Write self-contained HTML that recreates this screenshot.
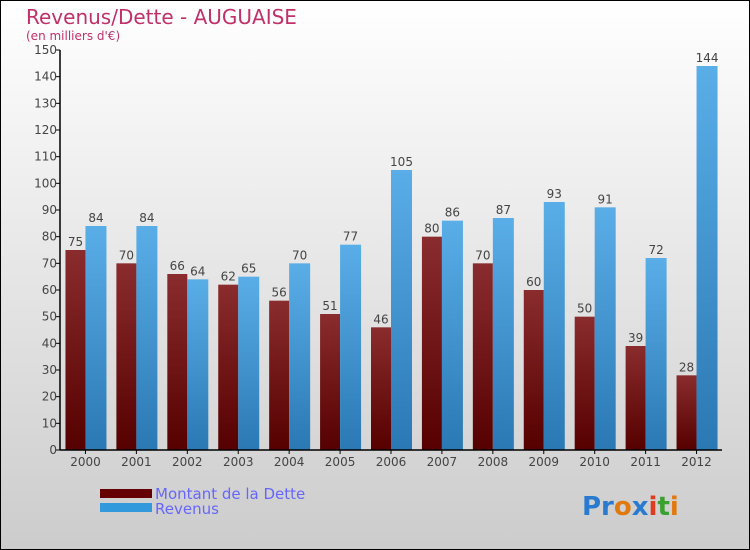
<!DOCTYPE html>
<html><head><meta charset="utf-8"><style>
body{margin:0}
#c{width:750px;height:550px;position:relative;overflow:hidden;font-family:"DejaVu Sans","Liberation Sans",sans-serif}
</style></head><body>
<div id="c">
<svg id="s" width="750" height="550" xmlns="http://www.w3.org/2000/svg">
<defs>
<linearGradient id="bg" x1="0" y1="0" x2="0" y2="1"><stop offset="0" stop-color="#ffffff"/><stop offset="1" stop-color="#cccccc"/></linearGradient>
<linearGradient id="gd" x1="0" y1="0" x2="0" y2="1"><stop offset="0" stop-color="#8a2c2e"/><stop offset="1" stop-color="#560000"/></linearGradient>
<linearGradient id="gr" x1="0" y1="0" x2="0" y2="1"><stop offset="0" stop-color="#5aaee8"/><stop offset="1" stop-color="#2a78b4"/></linearGradient>
</defs>
<rect x="0.5" y="0.5" width="749" height="549" fill="url(#bg)" stroke="#000"/>
<text x="26" y="24" font-size="20" fill="#c0306a">Revenus/Dette - AUGUAISE</text>
<text x="26" y="40" font-size="12" fill="#c0306a">(en milliers d'€)</text>
<g id="plot"></g>
<rect x="100" y="489" width="52" height="9" fill="#650000"/>
<text x="155" y="499" font-size="15" fill="#6666ff">Montant de la Dette</text>
<rect x="100" y="503" width="52" height="9" fill="#3399dd"/>
<text x="155" y="514" font-size="15" fill="#6666ff">Revenus</text>
<text x="582" y="515" font-size="26" font-weight="bold"><tspan fill="#2a7ad0">Pr</tspan><tspan fill="#e07a10">o</tspan><tspan fill="#2a7ad0">x</tspan><tspan fill="#e03a20">i</tspan><tspan fill="#3aa030">t</tspan><tspan fill="#e07a10">i</tspan></text>
</svg>
</div>
<script>
const years=["2000","2001","2002","2003","2004","2005","2006","2007","2008","2009","2010","2011","2012"];
const dette=[75,70,66,62,56,51,46,80,70,60,50,39,28];
const revenus=[84,84,64,65,70,77,105,86,87,93,91,72,144];
const yTicks=[0,10,20,30,40,50,60,70,80,90,100,110,120,130,140,150];
const NS="http://www.w3.org/2000/svg";
const g=document.getElementById('plot');
const x0=60,x1=722,y0=450,yTop=50,ymax=150;
const y=v=>y0-(v/ymax)*(y0-yTop);
const gw=(x1-x0)/years.length;
function mk(t,a,txt){const e=document.createElementNS(NS,t);for(const k in a)e.setAttribute(k,a[k]);if(txt!==undefined)e.textContent=txt;g.appendChild(e);return e;}
yTicks.forEach(t=>{
 const l=mk('line',{x1:x0-4,x2:x0,y1:y(t),y2:y(t),stroke:'#000'});
 
 
 const tx=mk('text',{x:x0-3,y:y(t)+4,'font-size':12,fill:'#444','text-anchor':'end'},t);
 
 
});
years.forEach((yr,i)=>{
 const gx=x0+i*gw, c=gx+gw/2;
 const bd=mk('rect',{x:c-20,y:y(dette[i]),width:20,height:y0-y(dette[i]),fill:'url(#gd)'});
 
 
 const br=mk('rect',{x:c,y:y(revenus[i]),width:21,height:y0-y(revenus[i]),fill:'url(#gr)'});
 
 
 const ld=mk('text',{x:c-10,y:y(dette[i])-4,'font-size':12,fill:'#444','text-anchor':'middle'},dette[i]);
 
 
 const lr=mk('text',{x:c+10.5,y:y(revenus[i])-4,'font-size':12,fill:'#444','text-anchor':'middle'},revenus[i]);
 
 
 const tk=mk('line',{x1:c,x2:c,y1:y0,y2:y0+4,stroke:'#000'});
 
 
 const xl=mk('text',{x:c,y:y0+16,'font-size':12,fill:'#444','text-anchor':'middle'},yr);
 
 
});
const ya=mk('line',{x1:x0,x2:x0,y1:yTop,y2:y0,stroke:'#000','stroke-width':1.5});


const xa=mk('line',{x1:x0,x2:x1,y1:y0,y2:y0,stroke:'#000','stroke-width':1.5});


</script>
</body></html>
